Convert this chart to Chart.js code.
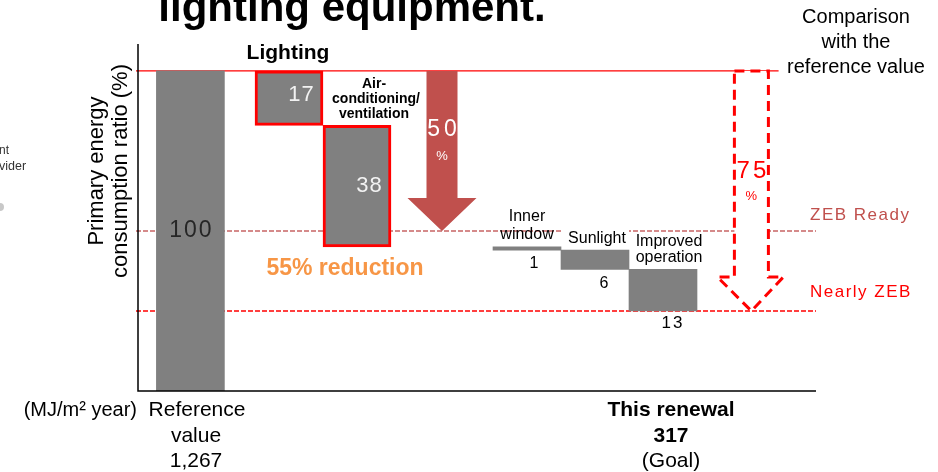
<!DOCTYPE html>
<html>
<head>
<meta charset="utf-8">
<script src="https://cdn.jsdelivr.net/npm/chart.js@4"></script>
<style>
  html, body { margin: 0; padding: 0; background: #fff; }
  #wrap { width: 938px; height: 472px; position: relative; }
</style>
</head>
<body>
<div id="wrap"><canvas id="myChart"></canvas></div>
<script>
// primary energy consumption ratio, reference building = 100
const referenceValue = 100
const stepNames = ['Lighting', 'Air-conditioning/ventilation', 'Inner window', 'Sunlight', 'Improved operation']
const reductions = [17, 38, 1, 6, 13]
const zebReady = 50
const nearlyZeb = 25
const referenceMJ = '1,267'
const renewalMJ = '317'

const FONT = "'Liberation Sans', Arial, sans-serif"
const GRAY = '#808080'
const RED = '#ff0000'
const BROWN = '#c0504d'

// waterfall: reference bar, then each reduction hangs from the running level
var floats = [[0, referenceValue]]
var level = referenceValue
reductions.forEach(r => {
    floats.push([level - r, level])
    level -= r
})

// slot of each bar on the x axis (20 slots across the plot)
const barSlot = [1.1, 4, 6, 11, 13, 15]

function txt(c, s, x, y, size, color, opts) {
    opts = opts || {}
    c.save()
    c.font = (opts.bold ? 'bold ' : '') + size + 'px ' + FONT
    c.fillStyle = color
    c.textAlign = opts.align || 'center'
    c.textBaseline = opts.base || 'middle'
    c.letterSpacing = (opts.sp || 0) + 'px'
    var dx = (opts.sp && (opts.align || 'center') == 'center') ? opts.sp / 2 : 0
    c.fillText(s, x + dx, y)
    c.restore()
}

function hline(c, x0, x1, y, color, dash) {
    c.save()
    c.strokeStyle = color
    c.lineWidth = 1.4
    c.setLineDash(dash)
    c.beginPath()
    c.moveTo(x0, y)
    c.lineTo(x1, y)
    c.stroke()
    c.restore()
}

const decor = {
    id: 'decor',
    beforeDatasetsDraw(chart) {
        const c = chart.ctx
        const xs = chart.scales.x, ys = chart.scales.y
        const a = chart.chartArea
        // reference level, ZEB Ready, Nearly ZEB
        hline(c, a.left, xs.getPixelForValue(18.4), ys.getPixelForValue(referenceValue), RED, [])
        hline(c, a.left, a.right, ys.getPixelForValue(zebReady), '#c86464', [5, 2])
        hline(c, a.left, a.right, ys.getPixelForValue(nearlyZeb), RED, [5, 2])
    },
    afterDatasetsDraw(chart) {
        const c = chart.ctx
        const xs = chart.scales.x, ys = chart.scales.y
        const a = chart.chartArea
        const bx = i => xs.getPixelForValue(barSlot[i])
        const top = i => ys.getPixelForValue(floats[i][1])
        const bot = i => ys.getPixelForValue(floats[i][0])
        const mid = i => (top(i) + bot(i)) / 2

        // axes
        c.save()
        c.strokeStyle = '#000'
        c.lineWidth = 1.5
        c.beginPath()
        c.moveTo(a.left + 2, a.top)
        c.lineTo(a.left + 2, a.bottom)
        c.lineTo(a.right, a.bottom)
        c.stroke()
        c.restore()

        // title (cut by the top edge)
        txt(c, 'lighting equipment.', 352, 21, 42, '#000', {bold: true, base: 'alphabetic'})
        // text clipped at the left edge
        txt(c, 'nt', -1, 151, 12, '#333', {align: 'left'})
        txt(c, 'vider', -1, 167, 12.5, '#333', {align: 'left'})
        c.save()
        c.fillStyle = '#c8c8c8'
        c.beginPath()
        c.arc(0, 207, 4, 0, Math.PI * 2)
        c.fill()
        c.restore()

        // y axis title
        c.save()
        c.translate(109, 171)
        c.rotate(-Math.PI / 2)
        txt(c, 'Primary energy', 0, -12, 22, '#000')
        txt(c, 'consumption ratio (%)', 0, 12, 22, '#000')
        c.restore()

        // values
        txt(c, String(floats[0][1]), bx(0), mid(0), 23, '#262626', {sp: 2})
        txt(c, String(reductions[0]), bx(1) + 12, mid(1) - 3, 22, '#f2f2f2', {sp: 1})
        txt(c, String(reductions[1]), bx(2) + 12, mid(2), 22, '#f2f2f2', {sp: 1})
        txt(c, String(reductions[2]), bx(3) + 7, bot(3) + 13, 16, '#000')
        txt(c, String(reductions[3]), bx(4) + 9, bot(4) + 14, 16, '#000')
        txt(c, String(reductions[4]), bx(5) + 9, bot(5) + 12, 17, '#000', {sp: 2})

        // step names
        txt(c, stepNames[0], bx(1) - 1, top(1) - 18, 21, '#000', {bold: true})
        txt(c, 'Air-', bx(2) + 17, top(2) - 41, 14, '#000', {bold: true})
        txt(c, 'conditioning/', bx(2) + 19, top(2) - 26, 14, '#000', {bold: true})
        txt(c, 'ventilation', bx(2) + 17, top(2) - 11, 14, '#000', {bold: true})
        txt(c, 'Inner', bx(3), top(3) - 30, 16, '#000')
        txt(c, 'window', bx(3), top(3) - 12, 16, '#000')
        c.save()
        c.fillStyle = '#fff'
        c.fillRect(bx(4) - 33, top(4) - 23, 67, 21)
        c.restore()
        txt(c, 'Sunlight', bx(4) + 2, top(4) - 12, 16, '#000')
        txt(c, 'Improved', bx(5) + 6, top(5) - 28, 16, '#000')
        txt(c, 'operation', bx(5) + 6, top(5) - 12, 16, '#000')

        txt(c, (reductions[0] + reductions[1]) + '% reduction', 345, 269, 23, '#f79646', {bold: true})

        // 50% arrow down to ZEB Ready
        var cx = xs.getPixelForValue(8.5)
        var y0 = ys.getPixelForValue(referenceValue)
        var y1 = ys.getPixelForValue(zebReady)
        var hs = y1 - 33
        c.save()
        c.fillStyle = BROWN
        c.beginPath()
        c.moveTo(cx - 15.5, y0)
        c.lineTo(cx + 15.5, y0)
        c.lineTo(cx + 15.5, hs)
        c.lineTo(cx + 34.5, hs)
        c.lineTo(cx, y1)
        c.lineTo(cx - 34.5, hs)
        c.lineTo(cx - 15.5, hs)
        c.closePath()
        c.fill()
        c.restore()
        txt(c, String(referenceValue - zebReady), cx, y0 + 59, 23, '#fff', {sp: 4})
        txt(c, '%', cx, y0 + 86, 13, '#fff')

        // 75% dashed arrow down to Nearly ZEB
        cx = xs.getPixelForValue(17.6)
        y1 = ys.getPixelForValue(nearlyZeb)
        hs = y1 - 34
        c.save()
        c.fillStyle = '#fff'
        c.strokeStyle = RED
        c.lineWidth = 3
        c.setLineDash([10, 6])
        c.beginPath()
        c.moveTo(cx - 17, y0)
        c.lineTo(cx + 17, y0)
        c.lineTo(cx + 17, hs)
        c.lineTo(cx + 32, hs)
        c.lineTo(cx, y1)
        c.lineTo(cx - 34, hs)
        c.lineTo(cx - 17, hs)
        c.closePath()
        c.fill()
        c.stroke()
        c.restore()
        txt(c, String(referenceValue - nearlyZeb), cx, y0 + 100, 24, RED, {sp: 3})
        txt(c, '%', cx, y0 + 126, 13, RED)

        // level labels
        txt(c, 'ZEB Ready', 810, ys.getPixelForValue(zebReady) - 16, 17, BROWN, {align: 'left', sp: 1.5})
        txt(c, 'Nearly ZEB', 810, ys.getPixelForValue(nearlyZeb) - 19, 17, RED, {align: 'left', sp: 1.5})
        txt(c, 'Comparison', 856, 17, 20, '#000')
        txt(c, 'with the', 856, 42, 20, '#000')
        txt(c, 'reference value', 856, 67, 20, '#000')

        // bottom labels
        txt(c, '(MJ/m\u00b2 year)', 137, 410, 20, '#000', {align: 'right'})
        txt(c, 'Reference', 197, 410, 21, '#000')
        txt(c, 'value', 196, 436, 21, '#000')
        txt(c, referenceMJ, 196, 461, 21, '#000')
        txt(c, 'This renewal', 671, 410, 21, '#000', {bold: true})
        txt(c, renewalMJ, 671, 436, 21, '#000', {bold: true})
        txt(c, '(Goal)', 671, 461, 21, '#000')
    }
}

const ctx = document.getElementById('myChart')
new Chart(ctx, {
    type: 'bar',
    data: {
        datasets: [{
            data: floats.map((f, i) => ({x: barSlot[i], y: f})),
            backgroundColor: GRAY,
            borderColor: RED,
            borderWidth: [0, 3, 3, 0, 0, 0],
            borderSkipped: false,
            barThickness: 68,
        }]
    },
    options: {
        responsive: true,
        maintainAspectRatio: false,
        animation: false,
        layout: {padding: {left: 136, right: 122, top: 44, bottom: 81}},
        plugins: {legend: {display: false}, tooltip: {enabled: false}},
        scales: {
            x: {type: 'linear', min: -0.5, max: 19.5, offset: false, display: false},
            y: {min: 0, max: 108.4, display: false}
        }
    },
    plugins: [decor]
})
</script>
</body>
</html>
